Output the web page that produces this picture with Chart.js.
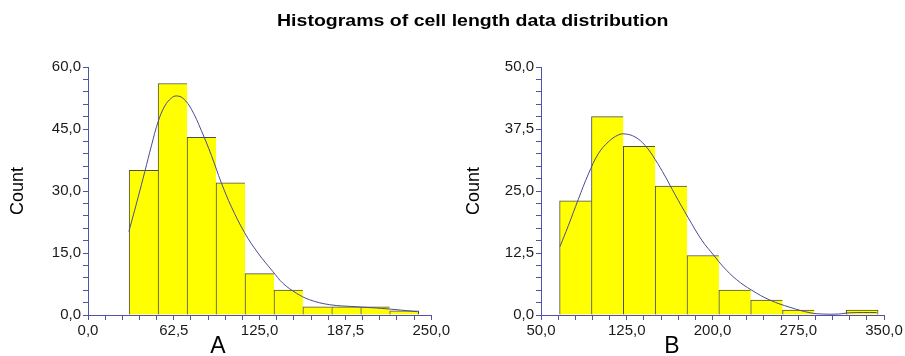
<!DOCTYPE html>
<html>
<head>
<meta charset="utf-8">
<script src="https://cdn.jsdelivr.net/npm/chart.js@4"></script>
<style>
  body { margin: 0; background: #fff; }
  #wrap { position: relative; width: 905px; height: 356px; overflow: hidden; font-family: "Liberation Sans", Arial, sans-serif; }
  .box { position: absolute; top: 0; height: 356px; }
  #title { position: absolute; left: 277px; top: 13px; font-weight: bold; font-size: 16px; line-height: 16px;
           white-space: nowrap; transform: scaleX(1.22); transform-origin: left top; color: #000; }
  .xname { position: absolute; top: 333px; width: 40px; text-align: center; font-size: 23px; line-height: 24px; color: #000; }
</style>
</head>
<body>
<div id="wrap">
  <div class="box" style="left:0;width:452px"><canvas id="chartA"></canvas></div>
  <div class="box" style="left:452px;width:453px"><canvas id="chartB"></canvas></div>
  <div id="title">Histograms of cell length data distribution</div>
  <div class="xname" style="left:198px">A</div>
  <div class="xname" style="left:652px">B</div>
</div>
<script>
// histogram A
const binCentersA = [40.5, 61.6, 82.7, 103.8, 124.9, 146.0, 167.0, 188.1, 209.2, 230.3];
const countsA = [35, 56, 43, 32, 10, 6, 2, 2, 2, 1];
const fitXA = [29.8, 36.6, 41.4, 46.3, 51.1, 56.0, 60.8, 64.4, 69.3, 75.3, 82.6, 89.9, 97.1, 104.4, 114.1, 123.8, 134.7, 141.9, 151.7, 161.3, 175.9, 195.3, 209.8, 224.3, 240.0];
const fitYA = [20.2, 28.6, 34.7, 41.1, 46.8, 50.6, 52.5, 53.0, 52.4, 49.8, 44.6, 38.6, 32.0, 26.2, 19.9, 15.0, 10.5, 7.7, 5.3, 3.7, 2.5, 2.0, 1.7, 1.3, 0.8];

// histogram B
const binCentersB = [80.2, 108.1, 135.9, 163.8, 191.6, 219.5, 247.3, 275.2, 303.0, 330.9];
const countsB = [23, 40, 34, 26, 12, 5, 3, 1, 0, 1];
const fitXB = [66.6, 73.9, 82.6, 91.4, 100.1, 108.9, 117.6, 123.5, 132.2, 141.0, 149.7, 158.5, 167.2, 178.8, 190.6, 201.6, 209.5, 221.2, 234.3, 250.3, 267.8, 285.3, 296.0, 310.0, 320.0, 343.6];
const fitYB = [13.8, 18.0, 23.3, 28.4, 32.5, 34.9, 36.3, 36.5, 35.9, 34.2, 31.4, 28.0, 24.3, 19.6, 15.1, 11.9, 9.7, 7.1, 5.0, 3.0, 1.55, 0.45, 0.2, 0.2, 0.45, 0.5];

// axis ranges: [min, max, minor step, major step]
const xAxisA = [0, 250, 12.5, 62.5];
const yAxisA = [0, 60, 3, 15];
const xAxisB = [50, 350, 15, 75];
const yAxisB = [0, 50, 2.5, 12.5];

const axisColor = '#5252a6';
const curveColor = '#4a4a94';
const fontFamily = '"Liberation Sans", Arial, sans-serif';

function fmt(v) {
    return v.toFixed(1).replace('.', ',');
}

function tickSetup(range) {
    return function(scale) {
        const ticks = [];
        const n = Math.round((range[1] - range[0]) / range[2]);
        for (let i = 0; i <= n; i++) ticks.push({ value: range[0] + i * range[2] });
        scale.ticks = ticks;
    };
}

function axis(range, extra) {
    return Object.assign({
        type: 'linear',
        min: range[0],
        max: range[1],
        offset: false,
        afterBuildTicks: tickSetup(range),
        border: { display: true, color: axisColor, width: 1 },
        grid: { drawOnChartArea: false, offset: false, tickLength: 5, color: axisColor, tickColor: axisColor },
        ticks: {
            autoSkip: false,
            maxRotation: 0,
            color: '#1a1a1a',
            padding: 2,
            font: { family: fontFamily, size: 15 },
            callback: function(v) {
                const k = (v - range[0]) / range[3];
                return Math.abs(k - Math.round(k)) < 1e-6 ? fmt(v) : '';
            }
        }
    }, extra);
}

function makeChart(id, centers, counts, fitX, fitY, xr, yr, yWidth, rightPad, titlePad) {
    const last = counts.length - 1;
    new Chart(document.getElementById(id), {
        type: 'bar',
        data: {
            datasets: [{
                type: 'line',
                data: fitX.map((x, i) => ({ x: x, y: fitY[i] })),
                borderColor: curveColor,
                borderWidth: 1,
                pointRadius: 0,
                tension: 0.4,
                order: 1
            }, {
                data: centers.map((x, i) => ({ x: x, y: counts[i] })),
                backgroundColor: '#ffff00',
                borderColor: '#4d4d4d',
                borderWidth: ctx => ({ top: 1, left: 1, bottom: 0, right: ctx.dataIndex === last ? 1 : 0 }),
                borderSkipped: false,
                barThickness: 'flex',
                barPercentage: 1,
                categoryPercentage: 1,
                order: 2
            }]
        },
        options: {
            responsive: true,
            maintainAspectRatio: false,
            animation: false,
            layout: { padding: { top: 67, right: rightPad, bottom: 0, left: 0 } },
            plugins: { legend: { display: false }, tooltip: { enabled: false } },
            scales: {
                x: axis(xr, {
                    afterFit: s => { s.height = 41; }
                }),
                y: axis(yr, {
                    afterFit: s => { s.width = yWidth; },
                    title: {
                        display: true,
                        text: 'Count',
                        color: '#000',
                        padding: { top: titlePad, bottom: 0 },
                        font: { family: fontFamily, size: 18 }
                    }
                })
            }
        }
    });
}

makeChart('chartA', binCentersA, countsA, fitXA, fitYA, xAxisA, yAxisA, 88, 20, 7);
makeChart('chartB', binCentersB, countsB, fitXB, fitYB, xAxisB, yAxisB, 89, 21, 11);
</script>
</body>
</html>
